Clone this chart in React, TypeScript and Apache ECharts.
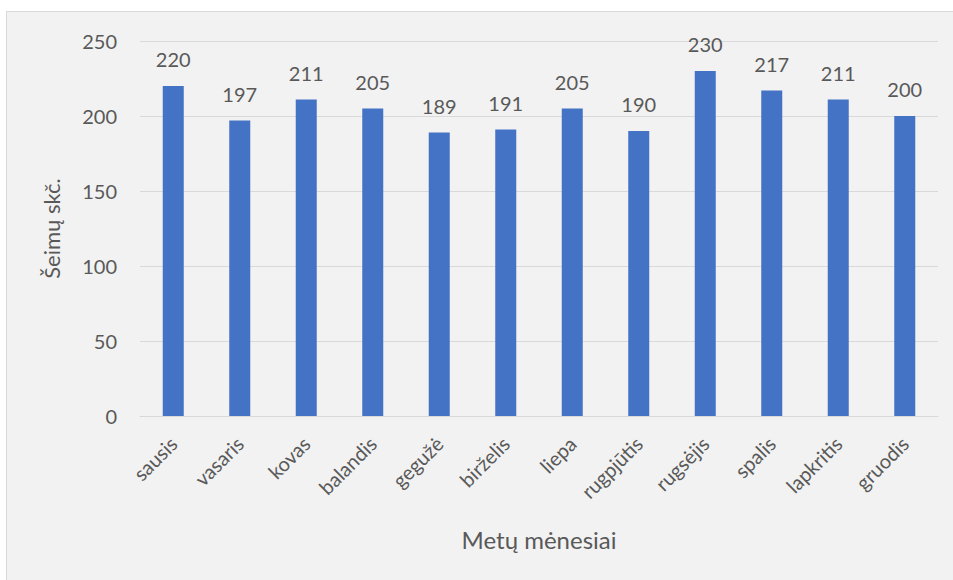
import React, { useEffect, useRef } from "react";
import * as echarts from "echarts";

const months = ["sausis", "vasaris", "kovas", "balandis", "gegužė", "birželis", "liepa", "rugpjūtis", "rugsėjis", "spalis", "lapkritis", "gruodis"];
const families = [220, 197, 211, 205, 189, 191, 205, 190, 230, 217, 211, 200];
const yAxisTitle = "Šeimų skč.";
const xAxisTitle = "Metų mėnesiai";

const FONT = "Lato, 'Open Sans', sans-serif";
const TXT = "#595959";

export default function App() {
  const ref = useRef<HTMLDivElement>(null);
  useEffect(() => {
    if (!ref.current) return;
    const chart = echarts.init(ref.current, undefined, { renderer: "svg" });
    chart.setOption({
      animation: false,
      backgroundColor: "#ffffff",
      textStyle: { fontFamily: FONT },
      graphic: [
        {
          type: "rect",
          shape: { x: 6.5, y: 11.5, width: 980, height: 600 },
          style: { fill: "#f2f2f2", stroke: "#d9d9d9", lineWidth: 1 },
          z: -10,
          silent: true,
        },
      ],
      grid: { left: 140, right: 15, top: 41, bottom: 164, containLabel: false },
      xAxis: {
        type: "category",
        data: months,
        axisTick: { show: false },
        axisLine: { lineStyle: { color: "#d9d9d9", width: 1 } },
        axisLabel: { rotate: 45, color: TXT, fontSize: 20, fontFamily: FONT, margin: 24, interval: 0 },
        name: xAxisTitle,
        nameLocation: "middle",
        nameGap: 111,
        nameTextStyle: { color: TXT, fontSize: 24, fontFamily: FONT },
      },
      yAxis: {
        type: "value",
        min: 0,
        max: 250,
        interval: 50,
        axisLine: { show: false },
        axisTick: { show: false },
        splitLine: { lineStyle: { color: "#d9d9d9", width: 1 } },
        axisLabel: { color: TXT, fontSize: 20, fontFamily: FONT, margin: 23 },
        name: yAxisTitle,
        nameLocation: "middle",
        nameGap: 78,
        nameRotate: 90,
        nameTextStyle: { color: TXT, fontSize: 22, fontFamily: FONT },
      },
      series: [
        {
          type: "bar",
          data: families,
          barWidth: 21,
          itemStyle: { color: "#4472c4" },
          label: { show: true, position: "top", distance: 17, color: TXT, fontSize: 20, fontFamily: FONT },
        },
      ],
    });
    return () => chart.dispose();
  }, []);
  return <div ref={ref} style={{ position: "absolute", left: 0, top: 0, width: 953, height: 580 }} />;
}
